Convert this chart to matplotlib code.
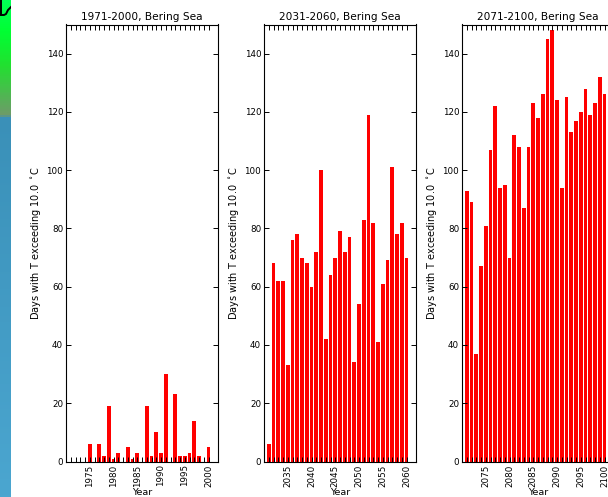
import numpy as np
import matplotlib
matplotlib.use("Agg")
import matplotlib.pyplot as plt
from matplotlib.colors import LinearSegmentedColormap

years_a = list(range(1971, 2001))
years_b = list(range(2031, 2061))
years_c = list(range(2071, 2101))

days_a = [0, 0, 0, 0, 6, 0, 6, 2, 19, 1, 3, 0, 5, 1, 3, 0, 19, 2, 10, 3, 30, 0, 23, 2, 2, 3, 14, 2, 0, 5]
days_b = [6, 68, 62, 62, 33, 76, 78, 70, 68, 60, 72, 100, 42, 64, 70, 79, 72, 77, 34, 54, 83, 119, 82, 41, 61, 69,
          101, 78, 82, 70]
days_c = [93, 89, 37, 67, 81, 107, 122, 94, 95, 70, 112, 108, 87, 108, 123, 118, 126, 145, 148, 124, 94, 125, 113,
          117, 120, 128, 119, 123, 132, 126]

titles = ['1971-2000, Bering Sea', '2031-2060, Bering Sea', '2071-2100, Bering Sea']
ylabel = r'Days with T exceeding 10.0 $^\circ$C'

W, H = 608, 497
panel_lefts = [66, 264, 462]
panel_w, top, bottom = 152, 24.5, 461.5

fig = plt.figure(figsize=(W / 100, H / 100), dpi=100)

# colour strip cut off at the left edge of the picture
strip = fig.add_axes([0, 0, 11 / W, 1])
strip_cmap = LinearSegmentedColormap.from_list('strip', [
    (0.0, '#00ff55'), (0.06, '#00ff33'), (0.13, '#22e030'), (0.231, '#6f9a6a'), (0.232, '#3a90b8'), (1.0, '#4ba6d0')])
strip.imshow(np.linspace(0, 1, H).reshape(-1, 1), aspect='auto', cmap=strip_cmap, vmin=0, vmax=1,
             extent=[0, 11, H, 0])
strip.plot([0, 2, 4, 6, 8, 10, 11], [14, 15, 15, 14, 10, 8, 7], color='black', lw=1.4)
strip.plot([1, 1], [0, 15], color='black', lw=1.4)
strip.set_xlim(0, 11)
strip.set_ylim(H, 0)
strip.axis('off')

panels = [(years_a, days_a), (years_b, days_b), (years_c, days_c)]
for i, (years, days) in enumerate(panels):
    ax = fig.add_axes([panel_lefts[i] / W, 1 - bottom / H, panel_w / W, (bottom - top) / H])
    ax.bar(years, days, width=0.75, color='red', linewidth=0)
    ax.set_xlim(years[0] - 1, years[-1] + 2)
    ax.set_ylim(0, 150)
    ax.set_yticks(range(0, 141, 20))
    ax.set_xticks(years, minor=True)
    ax.set_xticks([y for y in years if y % 5 == 0])
    ax.tick_params(axis='x', which='both', direction='in', top=True, length=3.5, width=0.7, labelsize=6.3,
                   labelrotation=90, pad=2, color='black')
    ax.tick_params(axis='y', direction='in', right=True, length=3.5, width=0.7, labelsize=6.3, pad=2)
    ax.set_title(titles[i], fontsize=7.6, pad=3)
    ax.set_xlabel('Year', fontsize=6.8, labelpad=1.2)
    ax.set_ylabel(ylabel, fontsize=7, labelpad=2.5)
    ax.set_axisbelow(False)
    for spine in ax.spines.values():
        spine.set_linewidth(0.8)

fig.savefig('out.png', dpi=100)
